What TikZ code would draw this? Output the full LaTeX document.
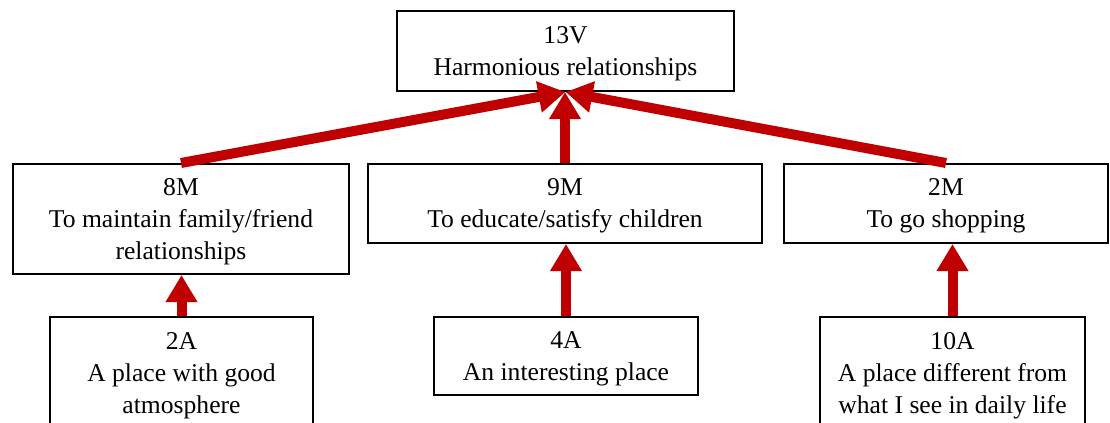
\documentclass[tikz,border=0pt]{standalone}
\usepackage{fontspec}
\setmainfont{Liberation Serif}
\usetikzlibrary{arrows.meta}
\definecolor{chainred}{RGB}{192,0,0}
\begin{document}
\begin{tikzpicture}[x=0.5pt,y=-0.5pt,
    ladder/.style={draw,line width=1pt,inner sep=0pt,align=center,
        text depth=-2.4pt,
        font=\fontsize{12.8}{16}\selectfont},
    link/.style={chainred,line width=5pt,
        -{Triangle[width=15pt,length=13.5pt]}}]
    \useasboundingbox (0,0) rectangle (1110,423);
    \clip (0,0) rectangle (1110,423);
    \node[ladder,minimum width=168.5pt,minimum height=40pt] (v13) at (565.5,51) {13V\\Harmonious relationships};
    \node[ladder,minimum width=168pt,minimum height=55pt] (m8) at (181,219) {8M\\To maintain family/friend\\relationships};
    \node[ladder,minimum width=197pt,minimum height=39.5pt] (m9) at (565,203.5) {9M\\To educate/satisfy children};
    \node[ladder,minimum width=162pt,minimum height=39.5pt] (m2) at (946,203.5) {2M\\To go shopping};
    \node[ladder,minimum width=131.5pt,minimum height=56pt] (a2) at (181.5,373) {2A\\A place with good\\atmosphere};
    \node[ladder,minimum width=132pt,minimum height=39pt] (a4) at (566,356) {4A\\An interesting place};
    \node[ladder,minimum width=132.5pt,minimum height=56pt] (a10) at (952.5,373) {10A\\A place different from\\what I see in daily life};
    \draw[link] (m8.north) -- (v13.south);
    \draw[link] (m9.north) -- (m9.north |- v13.south);
    \draw[link] (m2.north) -- (v13.south);
    \draw[link] (a2.north) -- (a2.north |- m8.south);
    \draw[link] (a4.north) -- (a4.north |- m9.south);
    \draw[link] (a10.north) -- (a10.north |- m2.south);
\end{tikzpicture}
\end{document}
